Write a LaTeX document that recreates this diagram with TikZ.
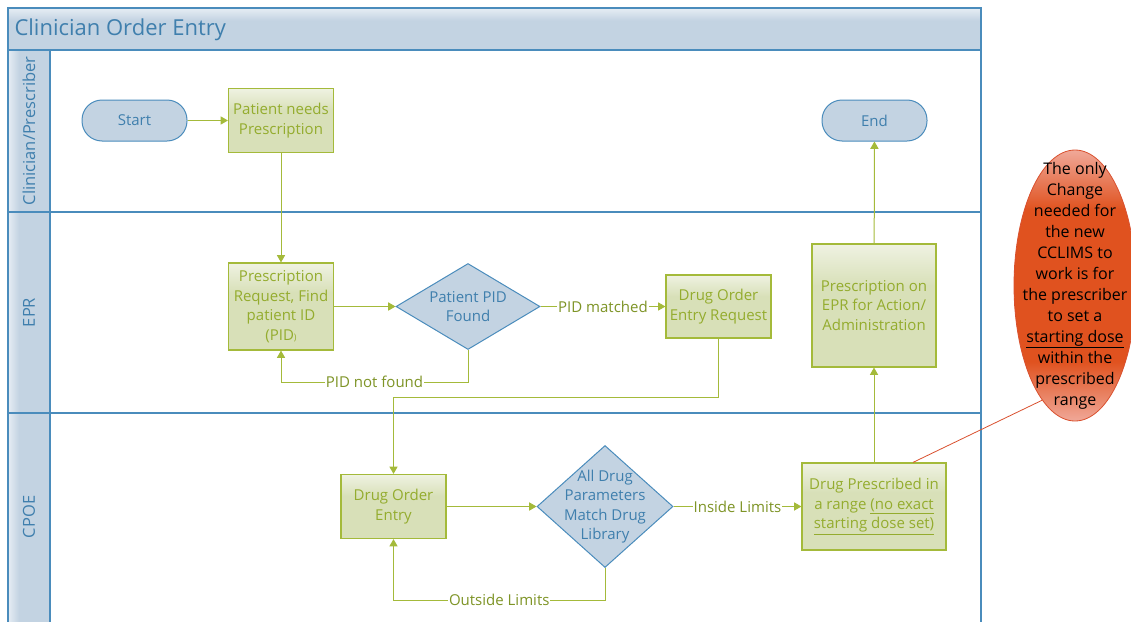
\documentclass[tikz,border=0pt]{standalone}
\usepackage{fontspec}
\setmainfont{Open Sans}
\usepackage{tikz}
\usetikzlibrary{positioning}
\usetikzlibrary{shapes.geometric}
\usetikzlibrary{arrows}

\definecolor{laneblue}{HTML}{4A8CBC}
\definecolor{lanefill}{HTML}{C3D3E2}
\definecolor{lanelight}{HTML}{E6EDF4}
\definecolor{lanetext}{HTML}{3F7FAD}
\definecolor{boxgreen}{HTML}{A4BA3A}
\definecolor{boxfill}{HTML}{D8E0B8}
\definecolor{boxtop}{HTML}{EFF2E2}
\definecolor{boxtext}{HTML}{94AC2E}
\definecolor{linktext}{HTML}{7E9426}
\definecolor{notered}{HTML}{E0521F}
\definecolor{notepink}{HTML}{F0A898}
\definecolor{noteline}{HTML}{D9502E}

\pgfdeclareverticalshading{boxfade}{100bp}{color(0bp)=(boxfill); color(58bp)=(boxfill); color(75bp)=(boxtop); color(100bp)=(boxtop)}
\pgfdeclareverticalshading{notefade}{100bp}{color(0bp)=(notepink); color(25bp)=(notepink); color(36bp)=(notered); color(64bp)=(notered); color(75bp)=(notepink); color(100bp)=(notepink)}
\pgfdeclareverticalshading{titlefade}{100bp}{color(0bp)=(lanefill); color(60bp)=(lanefill); color(75bp)=(lanelight); color(100bp)=(lanelight)}
\pgfdeclarehorizontalshading{lanefade}{100bp}{color(0bp)=(lanelight); color(25bp)=(lanelight); color(38bp)=(lanefill); color(100bp)=(lanefill)}

\tikzset{
  lane/.style={draw=laneblue, line width=1.4pt},
  term/.style={draw=laneblue, line width=1pt, fill=lanefill, rounded corners=20pt,
    minimum width=105pt, minimum height=41pt, text=lanetext, font=\fontsize{15}{19}\selectfont},
  proc/.style={draw=boxgreen, line width=1.2pt, shading=boxfade, align=center, inner sep=0pt,
    text=boxtext, font=\fontsize{15}{19.5}\selectfont},
  dia/.style={diamond, draw=laneblue, line width=1pt, fill=lanefill, inner sep=0pt},
  diatext/.style={align=center, text=lanetext, font=\fontsize{15}{19.5}\selectfont},
  flow/.style={draw=boxgreen, line width=1pt, -triangle 60},
  cond/.style={fill=white, text=linktext, inner sep=1pt, font=\fontsize{15}{17}\selectfont},
  lanelabel/.style={rotate=90, text=lanetext, font=\fontsize{16.5}{18}\selectfont},
}

\begin{document}
\begin{tikzpicture}[x=1pt, y=-1pt]
\useasboundingbox (0,0) rectangle (1131,621);
\clip (0,0) rectangle (1131,621);

\shade[shading=titlefade] (8,8) rectangle (981,50);
\shade[shading=lanefade] (8,50) rectangle (50,630);
\draw[lane] (8,630) -- (8,8) -- (981,8) -- (981,630);
\draw[lane] (8,50) -- (981,50);
\draw[lane] (50,50) -- (50,630);
\draw[lane] (8,212) -- (981,212);
\draw[lane] (8,413) -- (981,413);

\node[anchor=west, text=lanetext, font=\fontsize{22}{24}\selectfont] (title) at (11,30) {Clinician Order Entry};
\node[lanelabel] (clin) at (29,131) {Clinician/Prescriber};
\node[lanelabel] (epr) at (29,312.5) {EPR};
\node[lanelabel] (cpoe) at (29,517) {CPOE};

\node[term] (start) at (134.5,120.5) {Start};
\node[term] (end) at (874.5,120.5) {End};
\node[proc, minimum width=105pt, minimum height=64pt] (patneed) at (281,120.5) {Patient needs\\Prescription};
\node[proc, minimum width=105pt, minimum height=87pt] (prereq) at (281,306.5) {Prescription\\Request, Find\\patient ID\\(PID{\fontsize{9}{9}\selectfont)}};
\node[dia, minimum width=144pt, minimum height=86pt] (pid) at (468,306.5) {};
\node[diatext] (pidtxt) at (pid) {Patient PID\\Found};
\node[proc, minimum width=105pt, minimum height=63pt] (dreq) at (718.5,306.5) {Drug Order\\Entry Request};
\node[proc, minimum width=124pt, minimum height=123pt] (eprbox) at (874,305.5) {Prescription on\\EPR for Action/\\Administration};
\node[proc, minimum width=105pt, minimum height=64pt] (doe) at (393.5,506.5) {Drug Order\\Entry};
\node[dia, minimum width=136pt, minimum height=122pt] (drug) at (605,506.5) {};
\node[diatext] (drugtxt) at (drug) {All Drug\\Parameters\\Match Drug\\Library};
\node[proc, minimum width=144pt, minimum height=87pt] (drange) at (874,506.5) {Drug Prescribed in\\a range \underline{(no exact}\\\underline{starting dose set)}};

\draw[flow] (start) -- (patneed);
\draw[flow] (patneed) -- (prereq);
\draw[flow] (prereq) -- (pid);
\draw[flow] (pid) -- node[cond]{PID matched} (dreq);
\draw[flow] (pid.south) -- ++(0,32) -| node[cond, pos=0.25]{PID not found} (prereq.south);
\draw[flow] (dreq.south) -- ++(0,59) -| (doe.north);
\draw[flow] (doe) -- (drug);
\draw[flow] (drug) -- node[cond]{Inside Limits} (drange);
\draw[flow] (drug.south) -- ++(0,32) -| node[cond, pos=0.25]{Outside Limits} (doe.south);
\draw[flow] (drange) -- (eprbox);
\draw[flow] (eprbox) -- (end);

\node[ellipse, draw=noteline, line width=0.8pt, shading=notefade, minimum width=122pt, minimum height=271pt] (note) at (1075,285.5) {};
\node[align=center, text=black, font=\fontsize{16}{21}\selectfont] (notetxt) at (note) {The only\\Change\\needed for\\the new\\CCLIMS to\\work is for\\the prescriber\\to set a\\\underline{starting dose}\\within the\\prescribed\\range};
\draw[noteline, line width=0.8pt] ([xshift=39pt]drange.north) -- (note.254);
\end{tikzpicture}
\end{document}
